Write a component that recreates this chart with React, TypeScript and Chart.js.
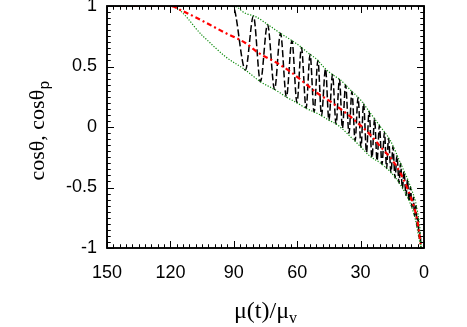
import React, { useEffect, useRef } from 'react';
import { Chart, registerables } from 'chart.js';

Chart.register(...registerables);

// ---- tick values / labels ----
const xTicks = [150, 120, 90, 60, 30, 0];
const xTickLabels = ['150', '120', '90', '60', '30', '0'];
const yTicks = [1, 0.5, 0, -0.5, -1];
const yTickLabels = ['1', '0.5', '0', '-0.5', '-1'];

// ---- axis titles ----
const xTitleMain = 'μ(t)/μ';
const xTitleSub = 'v';
const yTitleMain = 'cosθ, cosθ';
const yTitleSub = 'p';

// ---- upper envelope (green dotted) ----
const upperX = [150, 90.1, 84.5, 79.7, 73.6, 67.9, 61.7, 58.4, 54.6, 50.4, 47.6, 44.2, 39.5, 34.8, 30.0, 25.3, 20.6, 15.8, 11.1, 6.4, 3.2, 1.65, 1.4];
const upperY = [1, 1, 0.94, 0.912, 0.843, 0.774, 0.705, 0.664, 0.609, 0.554, 0.498, 0.444, 0.388, 0.306, 0.223, 0.113, 0.002, -0.116, -0.3, -0.493, -0.686, -0.907, -1];

// ---- lower envelope (green dotted) ----
const lowerX = [150, 120, 104.3, 93.9, 84.5, 77.4, 70.3, 64.1, 59.9, 56.1, 52.3, 49.0, 45.2, 40.9, 34.8, 30.0, 25.3, 20.6, 15.8, 11.1, 6.4, 4.0, 2.5, 1.4];
const lowerY = [1, 1, 0.746, 0.581, 0.471, 0.374, 0.306, 0.237, 0.198, 0.157, 0.126, 0.099, 0.058, 0.017, -0.08, -0.163, -0.245, -0.298, -0.372, -0.479, -0.636, -0.769, -0.907, -1];

// ---- cos(theta_p) (red dash-dot) ----
const redX = [150, 120, 115.2, 93.9, 84.5, 78.3, 70.3, 63.2, 50.4, 44.2, 34.8, 25.3, 20.6, 15.8, 11.1, 6.4, 3.2, 1.65, 1.4];
const redY = [1, 1, 0.967, 0.777, 0.694, 0.612, 0.537, 0.457, 0.279, 0.209, 0.085, -0.066, -0.163, -0.256, -0.383, -0.576, -0.769, -0.959, -1];

// ---- cos(theta) (black dashed, oscillating) ----
const blackX = [150, 90.5, 84.5, 80.7, 77.4, 74.05, 70.7, 67.9, 65.1, 62.5, 60.1, 58.0, 55.8, 53.9, 52.0, 50.2, 48.5, 46.6, 45.0, 43.3, 41.6, 40.0, 38.6, 37.1, 35.5, 34.1, 32.6, 31.2, 29.8, 28.6, 27.2, 26.0, 24.6, 23.4, 22.2, 21.1, 19.9, 18.7, 17.7, 16.8, 15.6, 14.7, 13.7, 12.8, 11.8, 11.1, 10.2, 9.5, 8.5, 7.8, 7.1, 6.4, 5.7, 5.0, 4.5, 3.8, 3.3, 2.8, 2.4, 1.9, 1.4];
const blackY = [1, 1, 0.471, 0.917, 0.374, 0.848, 0.311, 0.774, 0.248, 0.713, 0.201, 0.657, 0.155, 0.599, 0.125, 0.55, 0.094, 0.483, 0.055, 0.433, 0.023, 0.393, -0.01, 0.347, -0.051, 0.293, -0.114, 0.244, -0.167, 0.196, -0.212, 0.13, -0.253, 0.069, -0.279, 0.013, -0.309, -0.045, -0.342, -0.092, -0.378, -0.162, -0.421, -0.236, -0.464, -0.3, -0.511, -0.368, -0.566, -0.436, -0.613, -0.493, -0.663, -0.58, -0.736, -0.651, -0.822, -0.752, -0.909, -0.873, -1];

const pts = (xs: number[], ys: number[]) => xs.map((x, i) => ({ x, y: ys[i] }));

function drawFrame(chart: any) {
  const ctx: CanvasRenderingContext2D = chart.ctx;
  const a = chart.chartArea;
  const xs = chart.scales.x;
  const ys = chart.scales.y;
  ctx.save();
  ctx.setLineDash([]);
  ctx.globalAlpha = 1;
  ctx.strokeStyle = '#000';
  ctx.lineWidth = 1.6;
  ctx.beginPath();
  ctx.moveTo(a.left, a.top);
  ctx.lineTo(a.right, a.top);
  ctx.lineTo(a.right, a.bottom);
  ctx.lineTo(a.left, a.bottom);
  ctx.closePath();
  ctx.stroke();

  ctx.lineWidth = 1;
  ctx.beginPath();
  for (let i = 0; i <= 50; i++) {
    const px = Math.round(xs.getPixelForValue(i * 3)) + 0.5;
    const len = i % 10 === 0 ? 7 : 3.5;
    ctx.moveTo(px, a.bottom);
    ctx.lineTo(px, a.bottom - len);
    ctx.moveTo(px, a.top);
    ctx.lineTo(px, a.top + len);
  }
  for (let i = -20; i <= 20; i++) {
    const py = Math.round(ys.getPixelForValue(i * 0.05)) + 0.5;
    const len = i % 10 === 0 ? 7 : 3.5;
    ctx.moveTo(a.left, py);
    ctx.lineTo(a.left + len, py);
    ctx.moveTo(a.right, py);
    ctx.lineTo(a.right - len, py);
  }
  ctx.stroke();
  ctx.restore();
}

const framePlugin = {
  id: 'frameTicksTitles',
  afterDatasetsDraw(chart: any) {
    drawFrame(chart);
  },
  afterDraw(chart: any) {
    drawFrame(chart);
    const ctx: CanvasRenderingContext2D = chart.ctx;
    const a = chart.chartArea;
    ctx.save();
    ctx.fillStyle = '#000';
    ctx.textBaseline = 'alphabetic';
    ctx.textAlign = 'left';

    // x title
    const xMain = '24px "Liberation Serif", "DejaVu Serif", serif';
    const xSub = '16px "Liberation Serif", "DejaVu Serif", serif';
    ctx.font = xMain;
    const w1 = ctx.measureText(xTitleMain).width;
    ctx.font = xSub;
    const w2 = ctx.measureText(xTitleSub).width;
    const x0 = (a.left + a.right) / 2 - (w1 + w2) / 2;
    ctx.font = xMain;
    ctx.fillText(xTitleMain, x0, 318);
    ctx.font = xSub;
    ctx.fillText(xTitleSub, x0 + w1, 323);

    // y title (rotated)
    const yMain = '22px "Liberation Serif", "DejaVu Serif", serif';
    const ySub = '15px "Liberation Sans", "DejaVu Sans", sans-serif';
    ctx.save();
    ctx.translate(43.5, 131);
    ctx.rotate(-Math.PI / 2);
    ctx.font = yMain;
    const yw1 = ctx.measureText(yTitleMain).width;
    ctx.font = ySub;
    const yw2 = ctx.measureText(yTitleSub).width;
    const y0 = -(yw1 + yw2) / 2;
    ctx.font = yMain;
    ctx.fillText(yTitleMain, y0, 0);
    ctx.font = ySub;
    ctx.fillText(yTitleSub, y0 + yw1 + 0.5, 5);
    ctx.restore();

    ctx.restore();
  },
};

export default function App() {
  const ref = useRef<HTMLCanvasElement | null>(null);

  useEffect(() => {
    if (!ref.current) return;
    const tickFont = { family: '"Liberation Sans", Arial, sans-serif', size: 18 };
    const lineBase = { pointRadius: 0, cubicInterpolationMode: 'monotone' as const, fill: false };
    const chart = new Chart(ref.current, {
      type: 'line',
      data: {
        datasets: [
          { ...lineBase, label: 'cos θp', data: pts(redX, redY), borderColor: '#ff0000', borderWidth: 2.2, borderDash: [5, 3, 2, 3] },
          { ...lineBase, label: 'upper', data: pts(upperX, upperY), borderColor: '#0a8a0a', borderWidth: 1.2, borderDash: [1.2, 1.6] },
          { ...lineBase, label: 'lower', data: pts(lowerX, lowerY), borderColor: '#0a8a0a', borderWidth: 1.2, borderDash: [1.2, 1.6] },
          { ...lineBase, label: 'cos θ', data: pts(blackX, blackY), borderColor: '#000000', borderWidth: 1.5, borderDash: [7, 3] },
        ],
      },
      options: {
        animation: false,
        responsive: true,
        maintainAspectRatio: false,
        layout: { padding: { top: 6, right: 43, left: 0, bottom: 0 } },
        plugins: {
          legend: { display: false },
          tooltip: { enabled: false },
        },
        scales: {
          x: {
            type: 'linear',
            reverse: true,
            min: 0,
            max: 150,
            grid: { display: false, drawTicks: false },
            border: { display: false },
            afterBuildTicks: (s: any) => {
              s.ticks = xTicks.map((v) => ({ value: v }));
            },
            afterFit: (s: any) => {
              s.height = 79;
              s.paddingLeft = 0;
              s.paddingRight = 0;
            },
            ticks: {
              font: tickFont,
              color: '#000',
              padding: 14,
              maxRotation: 0,
              autoSkip: false,
              callback: (v: any) => xTickLabels[xTicks.indexOf(Number(v))],
            },
          },
          y: {
            type: 'linear',
            min: -1,
            max: 1,
            grid: { display: false, drawTicks: false },
            border: { display: false },
            afterBuildTicks: (s: any) => {
              s.ticks = yTicks.map((v) => ({ value: v }));
            },
            afterFit: (s: any) => {
              s.width = 107;
              s.paddingTop = 0;
              s.paddingBottom = 0;
            },
            ticks: {
              font: tickFont,
              color: '#000',
              padding: 10,
              autoSkip: false,
              callback: (v: any) => yTickLabels[yTicks.indexOf(Number(v))],
            },
          },
        },
      },
      plugins: [framePlugin],
    });
    return () => chart.destroy();
  }, []);

  return (
    <div style={{ position: 'fixed', left: 0, top: 0, width: 467, height: 327, background: '#fff' }}>
      <canvas ref={ref} />
    </div>
  );
}
